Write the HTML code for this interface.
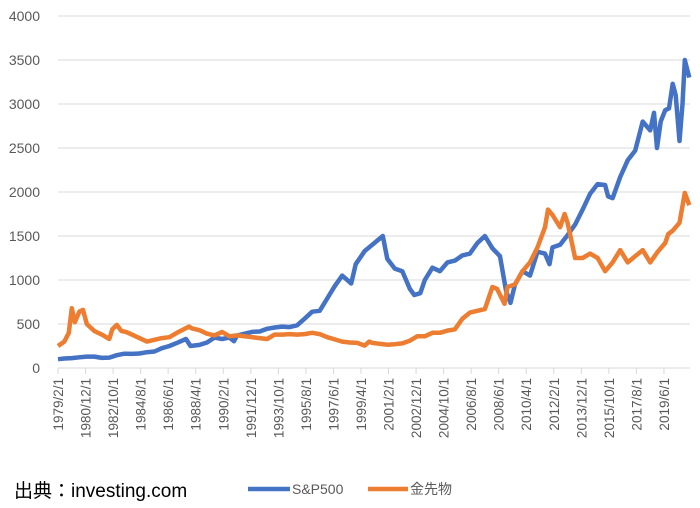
<!DOCTYPE html>
<html><head><meta charset="utf-8"><style>
body{margin:0;background:#fff;width:700px;height:508px;overflow:hidden;font-family:"Liberation Sans","Noto Sans CJK JP",sans-serif}
</style></head><body>
<svg id="chart" width="700" height="508" xmlns="http://www.w3.org/2000/svg" style="position:absolute;left:0;top:0">
<g id="grid"></g>
<g id="yaxis"></g>
<g id="xaxis"></g>
<g id="series"></g>
<text x="14" y="497" font-size="19" fill="#000">出典：investing.com</text>
<g>
<line x1="248" y1="489" x2="290" y2="489" stroke="#4472c4" stroke-width="4.5"/>
<text x="292" y="494" font-size="14" fill="#595959">S&amp;P500</text></g>
<g>
<line x1="368" y1="489" x2="408" y2="489" stroke="#ed7d31" stroke-width="4.5"/>
<text x="410" y="494" font-size="14" fill="#595959">金先物</text></g>
</svg>
<script>
const yTicks=[0,500,1000,1500,2000,2500,3000,3500,4000];
const xLabels=["1979/2/1","1980/12/1","1982/10/1","1984/8/1","1986/6/1","1988/4/1","1990/2/1","1991/12/1","1993/10/1","1995/8/1","1997/6/1","1999/4/1","2001/2/1","2002/12/1","2004/10/1","2006/8/1","2008/6/1","2010/4/1","2012/2/1","2013/12/1","2015/10/1","2017/8/1","2019/6/1"];
const spxDates=[1979.08,1979.5,1980,1980.5,1981,1981.5,1982,1982.5,1983,1983.5,1984,1984.5,1985,1985.5,1986,1986.5,1987,1987.6,1987.9,1988.5,1989,1989.5,1990,1990.5,1990.8,1991,1991.5,1992,1992.5,1993,1993.5,1994,1994.5,1995,1995.5,1996,1996.5,1997,1997.5,1998,1998.6,1998.9,1999.5,2000,2000.7,2001,2001.5,2002,2002.5,2002.8,2003.2,2003.5,2004,2004.5,2005,2005.5,2006,2006.5,2007,2007.5,2008,2008.5,2008.9,2009.2,2009.5,2010,2010.5,2011,2011.5,2011.8,2012,2012.5,2013,2013.5,2014,2014.5,2015,2015.5,2015.7,2016,2016.5,2017,2017.5,2018,2018.5,2018.75,2018.95,2019.2,2019.5,2019.75,2020,2020.2,2020.45,2020.65,2020.8,2021.1];
const spxValues=[100,108,113,122,130,130,115,118,145,162,160,165,180,188,225,250,285,330,250,262,290,345,330,345,305,368,390,410,415,445,460,470,465,485,560,640,650,790,930,1050,960,1180,1330,1400,1500,1240,1130,1100,900,830,850,1000,1140,1100,1200,1220,1280,1300,1420,1500,1360,1270,880,740,950,1100,1050,1320,1300,1180,1370,1400,1510,1630,1800,1980,2090,2080,1950,1930,2170,2360,2470,2800,2700,2900,2500,2800,2930,2950,3230,3100,2580,3000,3500,3300];
const goldDates=[1979.08,1979.5,1979.8,1980.0,1980.2,1980.5,1980.75,1981,1981.5,1982,1982.5,1982.7,1983.0,1983.3,1983.6,1984,1984.5,1985,1985.5,1986,1986.5,1987,1987.8,1988,1988.5,1989,1989.5,1990,1990.5,1991,1991.5,1992,1992.5,1993,1993.5,1994,1994.5,1995,1995.5,1996,1996.5,1997,1997.5,1998,1998.5,1999,1999.5,1999.8,2000,2000.5,2001,2001.5,2002,2002.5,2003,2003.5,2004,2004.5,2005,2005.5,2006,2006.5,2007,2007.5,2008,2008.3,2008.8,2009,2009.5,2010,2010.5,2011,2011.5,2011.7,2012,2012.5,2012.8,2013,2013.5,2014,2014.5,2015,2015.5,2016,2016.5,2017,2017.5,2018,2018.5,2019,2019.5,2019.7,2020,2020.45,2020.8,2021.1];
const goldValues=[250,300,400,680,520,640,660,500,420,380,330,440,490,420,410,380,340,300,320,340,350,400,470,450,430,390,370,410,360,370,360,350,340,330,380,380,385,380,385,400,385,350,325,300,290,285,255,300,285,275,265,270,280,310,360,360,400,400,425,440,560,630,650,670,920,900,730,920,950,1100,1200,1370,1600,1800,1740,1600,1750,1650,1250,1250,1300,1250,1100,1200,1340,1200,1270,1340,1200,1320,1420,1520,1560,1650,1990,1850];
const X0=58,PPM=1.252,Y0=368,PPU=0.088;
const xm=m=>X0+m*PPM;
const xd=d=>xm((d-1979.083)*12);
const y=v=>Y0-v*PPU;
const NS="http://www.w3.org/2000/svg";
function mk(tag,parent){const e=document.createElementNS(NS,tag);document.getElementById(parent).appendChild(e);return e;}
yTicks.forEach(t=>{
 if(t>0){const g=mk('line','grid');
 
 
 g.setAttribute('x1',X0);g.setAttribute('x2',690);g.setAttribute('y1',y(t));g.setAttribute('y2',y(t));g.setAttribute('stroke','#d9d9d9');g.setAttribute('stroke-width','1');}
 const l=mk('text','yaxis');
 
 
 l.setAttribute('x',40);l.setAttribute('y',y(t)+5);l.setAttribute('text-anchor','end');l.setAttribute('font-size','14');l.setAttribute('fill','#595959');l.textContent=t;
});
const ax=mk('line','xaxis');


ax.setAttribute('x1',X0);ax.setAttribute('x2',690);ax.setAttribute('y1',Y0);ax.setAttribute('y2',Y0);ax.setAttribute('stroke','#d9d9d9');
xLabels.forEach((s,i)=>{
 const x=xm(i*22);
 const t=mk('line','xaxis');
 
 
 t.setAttribute('x1',x);t.setAttribute('x2',x);t.setAttribute('y1',Y0);t.setAttribute('y2',Y0+6);t.setAttribute('stroke','#d9d9d9');
 const l=mk('text','xaxis');
 
 
 l.setAttribute('transform','translate('+(x+5)+',378) rotate(-90)');l.setAttribute('text-anchor','end');l.setAttribute('font-size','13.5');l.setAttribute('fill','#595959');l.textContent=s;
});
function drawLine(dates,vals,color,name){
 const p=mk('path','series');
 
 
 p.setAttribute('d',dates.map((d,i)=>(i?'L':'M')+xd(d).toFixed(1)+','+y(vals[i]).toFixed(1)).join(''));
 p.setAttribute('fill','none');p.setAttribute('stroke',color);p.setAttribute('stroke-width','4.5');p.setAttribute('stroke-linejoin','round');
}
drawLine(spxDates,spxValues,'#4472c4','sp500-line');
drawLine(goldDates,goldValues,'#ed7d31','gold-futures-line');
</script>
</body></html>
